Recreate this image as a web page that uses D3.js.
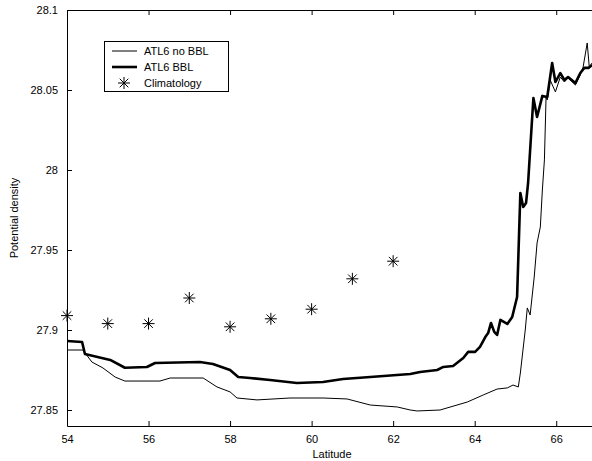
<!DOCTYPE html>
<html>
<head>
<meta charset="utf-8">
<script src="https://d3js.org/d3.v7.min.js"></script>
<style>
  body { margin: 0; background: #fff; }
  svg { display: block; font-family: "Liberation Sans", Arial, sans-serif; }
</style>
</head>
<body>
<svg width="592" height="461"></svg>
<script>
// ATL6 without bottom boundary layer (thin line)
let noBblLat = [54.00, 54.39, 54.61, 54.88, 55.18, 55.42, 56.28, 56.53, 57.34, 57.68, 58.00, 58.17,
  58.66, 59.47, 60.28, 60.87, 61.44, 62.10, 62.42, 62.59, 63.15, 63.82, 64.21, 64.55, 64.80, 64.94,
  65.07, 65.12, 65.24, 65.29, 65.36, 65.46, 65.53, 65.61, 65.66, 65.71, 65.75, 65.78, 65.85, 65.98,
  66.10, 66.20, 66.29, 66.47, 66.59, 66.66, 66.76, 66.81, 66.88];
let noBblVal = [27.8875, 27.8875, 27.880, 27.8763, 27.8706, 27.8681, 27.8681, 27.870, 27.870, 27.8644, 27.8613, 27.8575,
  27.8563, 27.8575, 27.8575, 27.8569, 27.8531, 27.8519, 27.850, 27.8494, 27.850, 27.855, 27.8594, 27.8631, 27.8638, 27.8656,
  27.8644, 27.8731, 27.900, 27.9138, 27.9094, 27.9331, 27.9544, 27.9644, 27.9875, 28.0063, 28.045, 28.0438, 28.0563, 28.0488,
  28.0581, 28.055, 28.0575, 28.0531, 28.0594, 28.0644, 28.0794, 28.0644, 28.0669];

// ATL6 with bottom boundary layer (thick line)
let bblLat = [54.00, 54.37, 54.44, 55.06, 55.42, 55.96, 56.16, 57.26, 57.58, 58.00, 58.20, 58.49,
  58.98, 59.64, 60.28, 60.77, 61.44, 62.42, 62.66, 63.08, 63.23, 63.47, 63.72, 63.84, 64.01, 64.13,
  64.26, 64.33, 64.40, 64.48, 64.55, 64.63, 64.80, 64.92, 65.04, 65.12, 65.19, 65.26, 65.31, 65.36,
  65.44, 65.53, 65.66, 65.78, 65.90, 65.98, 66.10, 66.20, 66.29, 66.47, 66.59, 66.69, 66.79, 66.88];
let bblVal = [27.8931, 27.8925, 27.885, 27.8813, 27.8764, 27.8769, 27.8794, 27.880, 27.8788, 27.875, 27.8706, 27.870,
  27.8688, 27.8669, 27.8675, 27.8694, 27.8706, 27.8725, 27.8738, 27.875, 27.8769, 27.8775, 27.8825, 27.8863, 27.8863, 27.8894,
  27.8956, 27.8981, 27.9044, 27.8988, 27.8969, 27.9063, 27.9038, 27.9081, 27.9206, 27.9856, 27.9769, 27.9794, 27.9919, 28.0125,
  28.045, 28.0331, 28.0463, 28.0456, 28.0669, 28.055, 28.0606, 28.0563, 28.0581, 28.0544, 28.0606, 28.0638, 28.0638, 28.0656];

// climatology points
let climLat = [54, 55, 56, 57, 58, 59, 60, 61, 62];
let climVal = [27.909, 27.904, 27.904, 27.920, 27.902, 27.907, 27.913, 27.932, 27.943];

let xTicks = [54, 56, 58, 60, 62, 64, 66];
let yTicks = [27.85, 27.9, 27.95, 28, 28.05, 28.1];
let legendLabels = ['ATL6 no BBL', 'ATL6 BBL', 'Climatology'];

let svg = d3.select('svg');
let marge = { top: 10, left: 67, right: 597, bottom: 426 };

let x = d3.scaleLinear().domain([54, 67]).range([marge.left, marge.right]);
let y = d3.scaleLinear().domain([27.84, 28.1]).range([marge.bottom, marge.top]);

svg.append('clipPath').attr('id', 'plot')
  .append('rect')
  .attr('x', marge.left).attr('y', marge.top)
  .attr('width', marge.right - marge.left).attr('height', marge.bottom - marge.top);

// axes, ticks inward like matlab
let fmtY = function(d) { return String(+d.toFixed(2)); };
svg.append('g')
  .attr('transform', 'translate(0,' + marge.bottom + ')')
  .call(d3.axisBottom(x).tickValues(xTicks).tickSizeInner(-5).tickSizeOuter(0).tickPadding(9));
svg.append('g')
  .attr('transform', 'translate(0,' + marge.top + ')')
  .call(d3.axisTop(x).tickValues(xTicks).tickSizeInner(-5).tickSizeOuter(0).tickFormat(''));
svg.append('g')
  .attr('transform', 'translate(' + marge.left + ',0)')
  .call(d3.axisLeft(y).tickValues(yTicks).tickSizeInner(-5).tickSizeOuter(0).tickPadding(9).tickFormat(fmtY));
svg.append('g')
  .attr('transform', 'translate(' + marge.right + ',0)')
  .call(d3.axisRight(y).tickValues(yTicks).tickSizeInner(-5).tickSizeOuter(0).tickFormat(''));

svg.selectAll('.domain, .tick line').attr('stroke', '#000').attr('stroke-width', 1);
svg.selectAll('.tick text').attr('font-size', 11).attr('fill', '#000')
  .attr('font-family', '"Liberation Sans", Arial, sans-serif');

svg.append('text')
  .attr('x', (marge.left + marge.right) / 2).attr('y', 458)
  .attr('text-anchor', 'middle').attr('font-size', 11)
  .text('Latitude');
svg.append('text')
  .attr('transform', 'translate(18,' + (marge.top + marge.bottom) / 2 + ') rotate(-90)')
  .attr('text-anchor', 'middle').attr('font-size', 11)
  .text('Potential density');

let line = d3.line()
  .x(function(d) { return x(d[0]); })
  .y(function(d) { return y(d[1]); });

let plot = svg.append('g').attr('clip-path', 'url(#plot)');
plot.append('path')
  .attr('d', line(d3.zip(noBblLat, noBblVal)))
  .attr('fill', 'none').attr('stroke', '#000').attr('stroke-width', 1)
  .attr('stroke-linejoin', 'round');
plot.append('path')
  .attr('d', line(d3.zip(bblLat, bblVal)))
  .attr('fill', 'none').attr('stroke', '#000').attr('stroke-width', 2.6)
  .attr('stroke-linejoin', 'round');

function star(g) {
  let r = 6, q = 4.3;
  g.append('path')
    .attr('d', 'M0,' + -r + 'V' + r + 'M' + -r + ',0H' + r +
      'M' + -q + ',' + -q + 'L' + q + ',' + q + 'M' + -q + ',' + q + 'L' + q + ',' + -q)
    .attr('stroke', '#000').attr('stroke-width', 1).attr('fill', 'none');
}

svg.append('g').selectAll('g')
  .data(d3.zip(climLat, climVal))
  .enter().append('g')
  .attr('transform', function(d) { return 'translate(' + x(d[0]) + ',' + y(d[1]) + ')'; })
  .each(function() { star(d3.select(this)); });

// legend
let leg = svg.append('g');
leg.append('rect')
  .attr('x', 104.5).attr('y', 41.5).attr('width', 124).attr('height', 50)
  .attr('fill', '#fff').attr('stroke', '#000').attr('stroke-width', 1);
let rows = [51, 67, 83];
legendLabels.forEach(function(label, i) {
  if (i < 2) {
    leg.append('line')
      .attr('x1', 112).attr('x2', 137).attr('y1', rows[i]).attr('y2', rows[i])
      .attr('stroke', '#000').attr('stroke-width', i == 0 ? 1 : 2.6);
  } else {
    star(leg.append('g').attr('transform', 'translate(124,' + rows[i] + ')'));
  }
  leg.append('text')
    .attr('x', 144).attr('y', rows[i] + 4)
    .attr('font-size', 11)
    .text(label);
});
</script>
</body>
</html>
